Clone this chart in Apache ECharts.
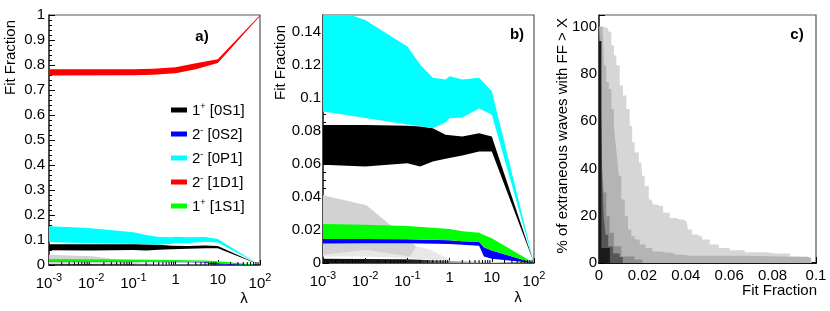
<!DOCTYPE html>
<html><head><meta charset="utf-8">
<script src="https://cdn.jsdelivr.net/npm/echarts@6/dist/echarts.min.js"></script>
<style>html,body{margin:0;padding:0;background:#fff}#c{width:830px;height:311px}</style>
</head><body><div id="c"></div>
<script>
// ---------------- data ----------------
const FONT = 'Liberation Sans, Arial, Helvetica, sans-serif';
const waveNames = ['1+ [0S1]', '2- [0S2]', '2- [0P1]', '2- [1D1]', '1+ [1S1]'];

// bands vs lambda (panel a and b): x = lambda, lo/hi = fit-fraction band edges
const blackL  = [0.001, 0.01, 0.1, 0.2, 0.4, 0.8, 2, 5, 10, 100];
const blackHi = [0.0834, 0.0834, 0.083, 0.0825, 0.0815, 0.0775, 0.0765, 0.0785, 0.0765, 0];
const blackLo = [0.0594, 0.0584, 0.0604, 0.0584, 0.0614, 0.063, 0.065, 0.0674, 0.0674, 0];

const cyanL  = [0.001, 0.0035, 0.01, 0.1, 0.2, 0.4, 0.8, 1, 2, 5, 10, 100];
const cyanHi = [0.155, 0.151, 0.147, 0.131, 0.120, 0.112, 0.111, 0.113, 0.111, 0.112, 0.104, 0];
const cyanLo = [0.0916, 0.0895, 0.0877, 0.0838, 0.0827, 0.0815, 0.085, 0.0876, 0.088, 0.0934, 0.0896, 0];

const redL  = [0.001, 0.1, 0.3, 1, 3, 10, 100];
const redHi = [0.783, 0.783, 0.785, 0.791, 0.807, 0.823, 1.0];
const redLo = [0.758, 0.759, 0.761, 0.767, 0.783, 0.808, 0.996];

const blueL  = [0.001, 0.01, 0.1, 1, 2, 5, 6.5, 10, 100];
const blueHi = [0.0145, 0.0145, 0.0143, 0.0138, 0.0132, 0.0128, 0.0095, 0.0075, 0];
const blueLo = [0.0118, 0.012, 0.012, 0.0115, 0.011, 0.0105, 0.004, 0.0025, 0];

const greenL  = [0.001, 0.01, 0.1, 1, 2, 5, 6.5, 10, 100];
const greenHi = [0.0236, 0.0232, 0.0224, 0.0205, 0.0192, 0.0183, 0.017, 0.015, 0];
const greenLo = [0.0145, 0.0145, 0.0143, 0.0138, 0.0132, 0.0128, 0.0095, 0.0075, 0];

const gray1L  = [0.001, 0.0107, 0.112, 0.162];
const gray1Hi = [0.041, 0.035, 0.0134, 0.010];
const gray1Lo = [0.005, 0.008, 0.004, 0.010];

const gray2L  = [0.001, 0.01, 0.1, 0.35, 1];
const gray2Hi = [0.0115, 0.0115, 0.0115, 0.008, 0.002];
const gray2Lo = [0.004, 0.004, 0.003, 0.002, 0.001];

const darkL  = [0.001, 0.01, 0.1, 1, 10, 100];
const darkHi = [0.0025, 0.0024, 0.0022, 0.0012, 0.0006, 0];
const darkLo = [0, 0, 0, 0, 0, 0];

// panel c: % of extraneous waves with FF > X (cumulative, several shades)
const ffL1  = [0, 0.0026, 0.0041, 0.0049, 0.0065, 0.0072, 0.0088, 0.0103, 0.0118, 0.0134, 0.0149, 0.0157, 0.0172, 0.0195, 0.0203, 0.0218, 0.0241, 0.0257, 0.028, 0.0311, 0.0341, 0.0372, 0.0403, 0.0418, 0.0441, 0.0464, 0.0487, 0.0533, 0.0571, 0.0633, 0.071, 0.0818, 0.094, 0.0979, 0.0979];
const pctL1 = [100, 100, 99.3, 97.9, 92.2, 87.9, 83.7, 75.1, 70.9, 65.2, 58.1, 51.1, 46.8, 42.6, 36.9, 32.6, 26.9, 24.8, 24.1, 21.3, 19.1, 18.4, 17.7, 14.2, 12.1, 11.3, 9.9, 7.8, 6.4, 5.4, 4.5, 4.0, 2.8, 2.1, 0];
const ffL2  = [0, 0.0016, 0.0021, 0.0026, 0.0041, 0.0049, 0.0065, 0.0072, 0.008, 0.0088, 0.0095, 0.0111, 0.0126, 0.0141, 0.0157, 0.0172, 0.0203, 0.0226, 0.0265, 0.0311, 0.0357, 0.0418, 0.094, 0.0975, 0.0975];
const pctL2 = [100, 100, 95, 83.7, 76.6, 73.7, 65.2, 58.1, 51.1, 44, 36.9, 26.9, 19.8, 14.2, 11.3, 9.9, 7.8, 6.4, 4.9, 4.3, 3.5, 3.1, 2.5, 2.2, 0];
const ffL3  = [0, 0.0011, 0.0011, 0.0018, 0.0026, 0.0041, 0.0057, 0.008, 0.0126, 0.02, 0.02];
const pctL3 = [100, 95, 55, 40, 29.8, 19.8, 12.8, 7.1, 2.8, 1.5, 0];
const ffL4  = [0, 0.0008, 0.0012, 0.0018, 0.0025, 0.0035, 0.005, 0.008, 0.011, 0.011];
const pctL4 = [100, 90, 60, 35, 20, 12, 7, 4, 2.5, 0];
const ffL5  = [0, 0.0011, 0.0011, 0.005, 0.005];
const pctL5 = [94, 94, 6.4, 6.4, 0];

// log-axis minor tick multipliers
const minorMult = [2, 3, 4, 5, 6, 7, 8, 9];
const decades = [0.001, 0.01, 0.1, 1, 10];

// ---------------- chart ----------------
const chart = echarts.init(document.getElementById('c'), null, {renderer: 'canvas'});

function band(name, xs, lo, hi, color, g, z) {
  const data = xs.map((x, i) => [x, lo[i], hi[i]]);
  return {
    type: 'custom', name: name, xAxisIndex: g, yAxisIndex: g, z: z,
    itemStyle: {color: color}, data: data, encode: {x: 0, y: [1, 2]},
    silent: true,
    renderItem: function (params, api) {
      if (params.dataIndex !== 0) return null;
      const top = data.map(d => api.coord([d[0], d[2]]));
      const bot = data.map(d => api.coord([d[0], d[1]])).reverse();
      const cs = params.coordSys;
      return {
        type: 'polygon', shape: {points: top.concat(bot)},
        style: {fill: color, stroke: null},
        clipPath: {type: 'rect', shape: {x: cs.x, y: cs.y, width: cs.width, height: cs.height}}
      };
    }
  };
}

function minorTickSeries(g) {
  const vals = [];
  decades.forEach(d => minorMult.forEach(m => vals.push([+(m * d).toPrecision(3), 0])));
  return {
    type: 'custom', xAxisIndex: g, yAxisIndex: g, z: 20, silent: true, data: vals,
    encode: {x: 0, y: 1},
    renderItem: function (params, api) {
      const p = api.coord([api.value(0), api.value(1)]);
      return {type: 'line', shape: {x1: p[0], y1: p[1], x2: p[0], y2: p[1] - 3},
              style: {stroke: '#000', lineWidth: 1}};
    }
  };
}

function stepSeries(xs, ys, color, z) {
  return {
    type: 'line', xAxisIndex: 2, yAxisIndex: 2, step: 'middle', symbol: 'none', z: z,
    silent: true, data: xs.map((x, i) => [x, ys[i]]),
    lineStyle: {width: 0, color: color}, areaStyle: {color: color, opacity: 1}
  };
}

const darkGrad = new echarts.graphic.LinearGradient(0, 0, 1, 0, [
  {offset: 0, color: '#111'}, {offset: 0.45, color: '#222'},
  {offset: 0.6, color: '#999'}, {offset: 0.8, color: '#ddd'}, {offset: 1, color: '#eee'}]);

const bandSets = g => [
  band(null, gray2L, gray2Lo, gray2Hi, '#e8e8e8', g, 1),
  band(null, gray1L, gray1Lo, gray1Hi, '#d2d2d2', g, 2),
  band(null, darkL, darkLo, darkHi, darkGrad, g, 3),
  band(waveNames[0], blackL, blackLo, blackHi, '#000000', g, 4),
  band(waveNames[2], cyanL, cyanLo, cyanHi, '#00ffff', g, 5),
  band(waveNames[3], redL, redLo, redHi, '#ff0000', g, 5),
  band(waveNames[1], blueL, blueLo, blueHi, '#0000ff', g, 6),
  band(waveNames[4], greenL, greenLo, greenHi, '#00ff00', g, 7),
  minorTickSeries(g)
];

const lbl = {color: '#000', fontFamily: FONT, fontSize: 15};
const logLabel = Object.assign({}, lbl, {
  margin: 7,
  formatter: function (v) {
    const e = Math.round(Math.log10(v));
    if (e === 0) return '{n|1}';
    if (e === 1) return '{n|10}';
    return '{n|10}{s|' + e + '}';
  },
  rich: {
    n: {fontSize: 15, fontFamily: FONT, color: '#000', verticalAlign: 'bottom'},
    s: {fontSize: 11, fontFamily: FONT, color: '#000', verticalAlign: 'bottom', padding: [0, 0, 8, 0]}
  }
});
const axLine = {show: true, lineStyle: {color: '#333', width: 1.5}};
const tick = {show: true, inside: true, length: 6, lineStyle: {color: '#000'}};
const minor = n => ({show: true, splitNumber: n, length: 3, lineStyle: {color: '#000'}});

const grids = [
  {left: 49, top: 15, width: 211, height: 250},
  {left: 323, top: 15, width: 211, height: 248},
  {left: 599, top: 15, width: 217, height: 248}
].map(g => Object.assign(g, {show: true, borderColor: '#555', borderWidth: 1.2, backgroundColor: 'transparent'}));

const xLog = i => ({
  type: 'log', logBase: 10, gridIndex: i, min: 0.001, max: 100, splitNumber: 5,
  axisLine: axLine, axisTick: {show: true, inside: true, length: 5, lineStyle: {color: '#000'}},
  splitLine: {show: false}, axisLabel: logLabel
});

const option = {
  animation: false,
  backgroundColor: '#fff',
  grid: grids,
  xAxis: [
    xLog(0), xLog(1),
    {type: 'value', gridIndex: 2, min: 0, max: 0.1, interval: 0.02,
     axisLine: {show: true, lineStyle: {color: '#111', width: 2}}, axisTick: tick, minorTick: minor(4),
     splitLine: {show: false}, axisLabel: Object.assign({}, lbl, {margin: 5})}
  ],
  yAxis: [
    {type: 'value', gridIndex: 0, min: 0, max: 1, interval: 0.1,
     axisLine: axLine, axisTick: tick, minorTick: minor(5), splitLine: {show: false},
     axisLabel: Object.assign({}, lbl, {margin: 4})},
    {type: 'value', gridIndex: 1, min: 0, max: 0.15, interval: 0.02,
     axisLine: axLine, axisTick: tick, minorTick: minor(4), splitLine: {show: false},
     axisLabel: Object.assign({}, lbl, {margin: 2, showMaxLabel: false})},
    {type: 'value', gridIndex: 2, min: 0, max: 105, interval: 20,
     axisLine: axLine, axisTick: tick, minorTick: minor(4), splitLine: {show: false},
     axisLabel: Object.assign({}, lbl, {margin: 2, showMaxLabel: false})}
  ],
  legend: {
    data: waveNames, orient: 'vertical', left: 166, top: 97,
    icon: 'rect', itemWidth: 16, itemHeight: 5, itemGap: 8, selectedMode: false,
    textStyle: {
      fontFamily: FONT, fontSize: 15, color: '#000',
      rich: {
        n: {fontSize: 15, fontFamily: FONT, color: '#000', verticalAlign: 'bottom'},
        s: {fontSize: 9, fontFamily: FONT, color: '#000', verticalAlign: 'bottom', padding: [0, 0, 7, 0]}
      }
    },
    formatter: function (name) {
      const m = name.match(/^(\d)([+-]) (.*)$/);
      return '{n|' + m[1] + '}{s|' + m[2] + '}{n| ' + m[3] + '}';
    }
  },
  series: [].concat(
    bandSets(0), bandSets(1),
    [stepSeries(ffL1, pctL1, '#d6d6d6', 1),
     stepSeries(ffL2, pctL2, '#b4b4b4', 2),
     stepSeries(ffL3, pctL3, '#8e8e8e', 3),
     stepSeries(ffL4, pctL4, '#555555', 4),
     stepSeries(ffL5, pctL5, '#1a1a1a', 5)]
  ),
  graphic: [
    {type: 'text', x: 11, y: 20, rotation: Math.PI / 2,
     style: {text: 'Fit Fraction', font: '15px ' + FONT, fill: '#000', align: 'right', verticalAlign: 'middle'}},
    {type: 'text', x: 281, y: 25, rotation: Math.PI / 2,
     style: {text: 'Fit Fraction', font: '15px ' + FONT, fill: '#000', align: 'right', verticalAlign: 'middle'}},
    {type: 'text', x: 563, y: 18, rotation: Math.PI / 2,
     style: {text: '% of extraneous waves with FF > X', font: '15px ' + FONT, fill: '#000', align: 'right', verticalAlign: 'middle'}},
    {type: 'text', x: 244, y: 299,
     style: {text: 'λ', font: '15px ' + FONT, fill: '#000', align: 'center', verticalAlign: 'middle'}},
    {type: 'text', x: 518, y: 298,
     style: {text: 'λ', font: '15px ' + FONT, fill: '#000', align: 'center', verticalAlign: 'middle'}},
    {type: 'text', x: 817, y: 291,
     style: {text: 'Fit Fraction', font: '15px ' + FONT, fill: '#000', align: 'right', verticalAlign: 'middle'}},
    {type: 'text', x: 202, y: 37,
     style: {text: 'a)', font: 'bold 15px ' + FONT, fill: '#000', align: 'center', verticalAlign: 'middle'}},
    {type: 'text', x: 517, y: 35,
     style: {text: 'b)', font: 'bold 15px ' + FONT, fill: '#000', align: 'center', verticalAlign: 'middle'}},
    {type: 'text', x: 797, y: 35,
     style: {text: 'c)', font: 'bold 15px ' + FONT, fill: '#000', align: 'center', verticalAlign: 'middle'}}
  ]
};
chart.setOption(option);
</script>
</body></html>
